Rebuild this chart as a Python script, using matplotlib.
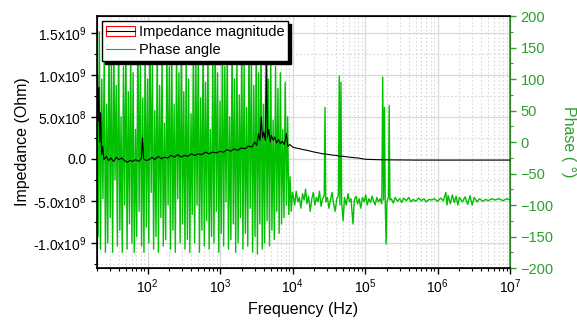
import matplotlib
matplotlib.use("Agg")
import matplotlib.pyplot as plt
from matplotlib.ticker import FixedLocator, FixedFormatter, LogLocator, NullFormatter
from matplotlib.patches import Patch
from matplotlib.lines import Line2D

plt.rcParams['font.family'] = ['Liberation Sans', 'DejaVu Sans']
plt.rcParams['mathtext.default'] = 'regular'

# ---------------- data ----------------
phase_freq_hz = [
    20.0, 20.8, 21.6, 22.4, 23.3, 24.2, 25.2, 26.2, 27.2, 28.2,
    29.3, 30.5, 31.7, 32.9, 34.2, 35.5, 36.9, 38.3, 39.8, 41.4,
    43.0, 44.7, 46.4, 48.2, 50.1, 52.1, 54.1, 56.2, 58.4, 60.7,
    63.1, 65.5, 68.1, 70.7, 73.5, 76.4, 79.4, 82.5, 85.7, 89.0,
    92.5, 96.1, 99.9, 103.8, 107.8, 112.0, 116.4, 121.0, 125.7, 130.6,
    135.7, 141.0, 146.5, 152.3, 158.2, 164.4, 170.8, 177.5, 184.4, 191.6,
    199.1, 206.9, 215.0, 223.4, 232.1, 241.2, 250.6, 260.4, 270.6, 281.2,
    292.2, 303.6, 315.5, 327.8, 340.6, 353.9, 367.8, 382.2, 397.1, 412.6,
    428.8, 445.5, 462.9, 481.0, 499.8, 519.4, 539.7, 560.8, 582.7, 605.5,
    629.2, 653.8, 679.3, 705.9, 733.5, 762.2, 792.0, 822.9, 855.1, 888.5,
    923.3, 959.4, 996.9, 1036, 1076, 1118, 1162, 1207, 1255, 1304,
    1355, 1408, 1463, 1520, 1579, 1641, 1705, 1772, 1841, 1913,
    1988, 2066, 2146, 2230, 2317, 2408, 2502, 2600, 2702, 2807,
    2917, 3031, 3150, 3273, 3401, 3534, 3672, 3815, 3964, 4119,
    4280, 4448, 4622, 4802, 4990, 5185, 5388, 5599, 5818, 6045,
    6281, 6527, 6782, 7047, 7323, 7609, 7907, 8216, 8537, 8871,
    9218, 9578, 9953,
    1.02e4, 1.07e4, 1.12e4, 1.18e4, 1.24e4, 1.30e4, 1.37e4, 1.44e4, 1.51e4, 1.58e4, 1.66e4, 1.75e4,
    1.84e4, 1.93e4, 2.03e4, 2.13e4, 2.24e4, 2.35e4, 2.47e4, 2.60e4, 2.73e4, 2.80e4, 2.87e4, 3.02e4,
    3.17e4, 3.33e4, 3.50e4, 3.68e4, 3.87e4, 4.07e4, 4.28e4, 4.40e4, 4.50e4, 4.65e4, 4.75e4, 4.98e4,
    5.2e4, 5.5e4, 5.8e4, 6.1e4, 6.4e4, 6.8e4, 7.1e4, 7.5e4, 7.9e4, 8.3e4, 8.7e4, 9.2e4, 9.7e4,
    1.02e5, 1.07e5, 1.13e5, 1.19e5, 1.25e5, 1.31e5, 1.38e5, 1.45e5, 1.53e5, 1.61e5, 1.70e5, 1.75e5,
    1.80e5, 1.85e5, 1.90e5, 1.95e5, 2.0e5, 2.1e5, 2.15e5, 2.2e5, 2.3e5, 2.45e5, 2.6e5, 2.8e5, 3.0e5,
    3.2e5, 3.4e5, 3.7e5, 4.0e5, 4.3e5, 4.6e5, 5.0e5, 5.5e5, 6.0e5, 6.5e5, 7.0e5, 7.6e5, 8.3e5, 9.0e5,
    1.0e6, 1.1e6, 1.2e6, 1.3e6, 1.35e6, 1.4e6, 1.5e6, 1.6e6, 1.7e6, 1.8e6, 1.9e6, 2.0e6, 2.2e6,
    2.4e6, 2.6e6, 2.8e6, 3.0e6, 3.2e6, 3.5e6, 3.8e6, 4.2e6, 4.6e6, 5.0e6, 5.6e6, 6.2e6, 7.0e6,
    8.0e6, 9.0e6, 1.0e7,
]
phase_deg = [
    160, -150, 175, -170, 100, -90, 140, -175, 60, -160,
    170, -120, 130, -175, 150, -60, 90, -165, 165, -140,
    40, -175, 120, -100, 160, -170, 80, -130, 145, -160,
    110, -175, 20, -150, 170, -110, 130, -165, 70, -175,
    155, -135, 100, -160, 175, -80, 125, -170, 50, -150,
    165, -175, 90, -120, 140, -165, 30, -155, 160, -100,
    120, -170, 170, -140, 60, -175, 150, -90, 110, -160,
    175, -130, 80, -170, 140, -155, 100, -175, 45, -115,
    165, -160, 130, -100, 150, -175, 70, -140, 170, -165,
    95, -125, 155, -170, 20, -150, 135, -160, 175, -110,
    110, -175, 65, -145, 160, -165, 120, -95, 150, -170,
    40, -155, 170, -130, 100, -175, 140, -160, 75, -120,
    160, -170, 125, -145, 55, -165, 170, -105, 135, -175,
    90, -150, 150, -178, 110, -130, 165, -170, 60, -160,
    140, -125, 100, -165, 130, -140, 35, -155, 120, -110,
    85, -145, 110, -130, 20, -120, 95, -100, 40, -115,
    -55, -110, -80,
    -85, -100, -78, -95, -88, -105, -82, -92, -75, -98, -86, -110,
    -90, -80, -100, -88, -95, -78, -102, -90, -85, 55, -95, -88,
    -105, -92, -80, -98, -110, -90, -85, 105, -100, 95, -95, -125,
    -88, -100, -82, -95, -90, -130, -92, -86, -98, -90, -105, -88, -95,
    -84, -100, -90, -96, -86, -94, -100, -88, -95, -90, -98, 103,
    -92, 55, -100, -162, -95, -88, 58, -92, -90, -97, -88, -94, -90,
    -96, -89, -93, -88, -95, -91, -94, -89, -93, -90, -95, -91, -92, -90,
    -94, -89, -93, -80, -100, -85, -98, -84, -96, -86, -100, -88, -95,
    -87, -99, -85, -100, -88, -95, -90, -94, -91, -93, -90, -92, -90,
    -93, -90, -92,
]

imp_freq_hz = [
    20, 20.4, 20.8, 21.3, 21.8, 22.5, 23.2, 24, 25, 27, 29, 31, 34, 37, 40, 44, 48, 52, 57, 62,
    68, 75, 82, 85, 88, 95, 105, 115, 125, 140, 155, 170, 190, 210, 235, 260, 290, 320, 360, 400,
    450, 500, 560, 630, 700, 790, 880, 1000, 1120, 1250, 1400, 1560, 1750, 1950, 2200, 2450, 2750,
    3000, 3200, 3400, 3550, 3700, 3850, 4000, 4200, 4400, 4500, 4700, 4900, 5100, 5400, 5700,
    6000, 6400, 6800, 7200, 7700, 8200, 8600, 9200, 1.0e4, 1.1e4, 1.25e4, 1.4e4, 1.6e4, 1.8e4,
    2.0e4, 2.3e4, 2.6e4, 3.0e4, 3.5e4, 4.0e4, 4.5e4, 5.0e4, 6.0e4, 7.0e4, 8.0e4, 1.0e5, 1.5e5,
    2.0e5, 5.0e5, 1.0e6, 1.0e7,
]
imp_ohm = [
    0.6e9, 1.0e9, 0.45e9, 0.85e9, 0.2e9, 0.55e9, 0.05e9, 0.15e9, -0.01e9, 0.03e9, -0.02e9,
    0.01e9, -0.03e9, 0.02e9, -0.01e9, 0.01e9, -0.02e9, -0.04e9, -0.02e9, -0.03e9, -0.01e9,
    -0.03e9, 0.0, 0.25e9, 0.0, -0.02e9, -0.01e9, 0.02e9, -0.01e9, 0.03e9, 0.0, 0.02e9, 0.01e9,
    0.04e9, 0.02e9, 0.05e9, 0.02e9, 0.04e9, 0.03e9, 0.06e9, 0.04e9, 0.06e9, 0.05e9, 0.08e9,
    0.06e9, 0.08e9, 0.07e9, 0.09e9, 0.08e9, 0.11e9, 0.09e9, 0.12e9, 0.10e9, 0.13e9, 0.12e9,
    0.15e9, 0.14e9, 0.2e9, 0.16e9, 0.3e9, 0.22e9, 0.5e9, 0.25e9, 0.32e9, 0.22e9, 1.15e9,
    0.26e9, 0.35e9, 0.2e9, 0.28e9, 0.22e9, 0.26e9, 0.19e9, 0.23e9, 0.18e9, 0.21e9, 0.17e9,
    0.3e9, 0.15e9, 0.17e9, 0.14e9, 0.13e9, 0.12e9, 0.11e9, 0.10e9, 0.09e9, 0.08e9, 0.07e9,
    0.06e9, 0.055e9, 0.045e9, 0.04e9, 0.03e9, 0.03e9, 0.02e9, 0.015e9, 0.01e9, -0.005e9,
    -0.01e9, -0.012e9, -0.015e9, -0.015e9, -0.015e9,
]

left_ticks = [-1.0e9, -0.5e9, 0.0, 0.5e9, 1.0e9, 1.5e9]
left_tick_labels = [r'-1.0x10$^{9}$', r'-5.0x10$^{8}$', '0.0', r'5.0x10$^{8}$',
                    r'1.0x10$^{9}$', r'1.5x10$^{9}$']
right_ticks = [-200, -150, -100, -50, 0, 50, 100, 150, 200]

# ---------------- figure ----------------
GREEN_LINE = '#00C000'
GREEN_TXT = '#2E9E2E'

fig = plt.figure(figsize=(5.77, 3.21), dpi=100)
ax = fig.add_axes([0.168, 0.165, 0.716, 0.785])
ax2 = ax.twinx()

ax2.plot(phase_freq_hz, phase_deg, color=GREEN_LINE, lw=1.0, zorder=2)
ax2.plot(imp_freq_hz, imp_ohm, color='black', lw=0.8, zorder=3, transform=ax.transData)

ax.set_xscale('log')
ax.set_xlim(20, 1e7)
ax.set_ylim(-1.3e9, 1.7e9)
ax2.set_ylim(-200, 200)

ax.yaxis.set_major_locator(FixedLocator(left_ticks))
ax.yaxis.set_major_formatter(FixedFormatter(left_tick_labels))
ax.yaxis.set_minor_locator(FixedLocator([-1.25e9, -0.75e9, -0.25e9, 0.25e9, 0.75e9, 1.25e9]))
ax.xaxis.set_major_locator(LogLocator(base=10, numticks=20))
ax.xaxis.set_minor_locator(LogLocator(base=10, subs=range(2, 10), numticks=100))
ax.xaxis.set_minor_formatter(NullFormatter())

ax2.yaxis.set_major_locator(FixedLocator(right_ticks))
ax2.yaxis.set_minor_locator(FixedLocator([-175, -125, -75, -25, 25, 75, 125, 175]))

ax.grid(True, which='major', color='#D9D9D9', lw=0.9, ls='-')
ax.grid(True, which='minor', color='#D9D9D9', lw=0.8, ls=(0, (1.5, 2)))
ax.set_axisbelow(True)

ax.tick_params(axis='both', which='major', labelsize=10, direction='out', length=4, width=1)
ax.tick_params(axis='both', which='minor', direction='out', length=2.5, width=0.8)
ax.tick_params(axis='x', pad=3)
ax2.tick_params(axis='y', which='major', labelsize=10.5, colors=GREEN_TXT, direction='out',
                length=4, width=1)
ax2.tick_params(axis='y', which='minor', colors=GREEN_TXT, direction='out', length=2.5, width=0.8)

for s in ['left', 'bottom', 'top']:
    ax2.spines[s].set_color('black')
    ax2.spines[s].set_linewidth(1.2)
ax2.spines['right'].set_color(GREEN_TXT)
ax2.spines['right'].set_linewidth(1.2)

ax.set_xlabel('Frequency (Hz)', fontsize=11.5)
ax.set_ylabel('Impedance (Ohm)', fontsize=11.5, labelpad=2)
ax2.set_ylabel('Phase ( °)', fontsize=11.5, color=GREEN_TXT, rotation=270, labelpad=16)

h_imp = (Patch(facecolor='white', edgecolor='red', lw=0.8),
         Line2D([], [], color='black', lw=0.8))
h_ph = Line2D([], [], color=GREEN_LINE, lw=0.8)
leg = ax2.legend([h_imp, h_ph], ['Impedance magnitude', 'Phase angle'],
                 loc='upper left', bbox_to_anchor=(0.012, 0.98), fontsize=10.5,
                 frameon=True, fancybox=False, framealpha=1, edgecolor='black',
                 shadow={'color': 'black', 'alpha': 1}, borderpad=0.25, labelspacing=0.3,
                 handlelength=2.0, handletextpad=0.3, borderaxespad=0)
leg.get_frame().set_linewidth(1.0)
leg.set_zorder(10)

fig.savefig('out.png', dpi=100)
